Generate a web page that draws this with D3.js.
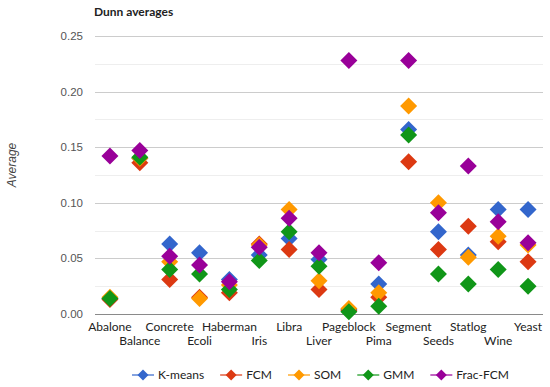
<!doctype html>
<html>
<head>
  <meta charset="utf-8">
  <title>Dunn averages</title>
  <style>
    html, body { margin: 0; padding: 0; background: #fff; }
    svg { display: block; font-family: Lato, "Liberation Sans", sans-serif; }
  </style>
</head>
<body>
  <div id="chart"></div>

  <script src="https://d3js.org/d3.v7.min.js"></script>
  <script>
    // data
    const datasets = ["Abalone", "Balance", "Concrete", "Ecoli", "Haberman", "Iris", "Libra", "Liver",
                      "Pageblock", "Pima", "Segment", "Seeds", "Statlog", "Wine", "Yeast"];
    const seriesNames = ["K-means", "FCM", "SOM", "GMM", "Frac-FCM"];
    const kmeans  = [0.014, 0.140, 0.063, 0.055, 0.031, 0.053, 0.068, 0.049, 0.004, 0.027, 0.166, 0.074, 0.053, 0.094, 0.094];
    const fcm     = [0.013, 0.136, 0.031, 0.015, 0.019, 0.063, 0.058, 0.022, 0.003, 0.015, 0.137, 0.058, 0.079, 0.065, 0.047];
    const som     = [0.015, 0.140, 0.047, 0.014, 0.026, 0.062, 0.094, 0.030, 0.005, 0.019, 0.187, 0.100, 0.051, 0.070, 0.062];
    const gmm     = [0.014, 0.141, 0.040, 0.036, 0.022, 0.048, 0.074, 0.043, 0.002, 0.007, 0.161, 0.036, 0.027, 0.040, 0.025];
    const fracfcm = [0.142, 0.147, 0.052, 0.044, 0.029, 0.060, 0.086, 0.055, 0.228, 0.046, 0.228, 0.091, 0.133, 0.083, 0.064];
    const seriesValues = [kmeans, fcm, som, gmm, fracfcm];
    const colors = ["#3366cc", "#dc3912", "#ff9900", "#109618", "#990099"];
    const yTicks = [0, 0.05, 0.10, 0.15, 0.20, 0.25];
    const yMinor = [0.025, 0.075, 0.125, 0.175, 0.225];

    const width = 550, height = 387;
    const plot = { left: 95, right: 543, top: 36, bottom: 314 };

    const svg = d3.select("#chart").append("svg")
        .attr("width", width)
        .attr("height", height);

    const x = d3.scaleBand().domain(datasets).range([plot.left, plot.right]);
    const y = d3.scaleLinear().domain([0, 0.25]).range([plot.bottom, plot.top]);
    const cx = d => x(d) + x.bandwidth() / 2;

    // minor grid
    svg.append("g").selectAll("line").data(yMinor).join("line")
        .attr("x1", plot.left).attr("x2", plot.right)
        .attr("y1", d => Math.round(y(d)) + 0.5).attr("y2", d => Math.round(y(d)) + 0.5)
        .attr("stroke", "#eeeeee");

    // major grid
    svg.append("g").selectAll("line").data(yTicks.slice(1)).join("line")
        .attr("x1", plot.left).attr("x2", plot.right)
        .attr("y1", d => Math.round(y(d)) + 0.5).attr("y2", d => Math.round(y(d)) + 0.5)
        .attr("stroke", "#cccccc");

    // baseline
    svg.append("line")
        .attr("x1", plot.left).attr("x2", plot.right)
        .attr("y1", Math.round(y(0)) + 0.5).attr("y2", Math.round(y(0)) + 0.5)
        .attr("stroke", "#8a8a8a").attr("stroke-width", 1.2);

    // y tick labels
    svg.append("g").selectAll("text").data(yTicks).join("text")
        .attr("x", 83)
        .attr("y", d => y(d))
        .attr("dy", "0.35em")
        .attr("text-anchor", "end")
        .style("font-family", "'Liberation Sans', Arial, sans-serif")
        .style("font-size", "11.5px")
        .attr("fill", "#555")
        .text(d => d3.format(".2f")(d));

    // x labels, staggered in two rows
    svg.append("g").selectAll("text").data(datasets).join("text")
        .attr("x", d => cx(d))
        .attr("y", (d, i) => i % 2 === 0 ? 331 : 345)
        .attr("text-anchor", "middle")
        .style("font-size", "12px")
        .attr("fill", "#222")
        .text(d => d);

    // title
    svg.append("text")
        .attr("x", 94).attr("y", 16)
        .style("font-size", "12px")
        .style("font-weight", "bold")
        .attr("fill", "#222")
        .text("Dunn averages");

    // y axis title
    svg.append("text")
        .attr("transform", "translate(16,165) rotate(-90)")
        .attr("text-anchor", "middle")
        .style("font-family", "'Liberation Sans', Arial, sans-serif")
        .style("font-size", "12px")
        .style("font-style", "italic")
        .attr("fill", "#444")
        .text("Average");

    const diamond = r => `M0,${-r}L${r},0L0,${r}L${-r},0Z`;

    // points, series in order so Frac-FCM sits on top
    seriesValues.forEach((vals, s) => {
      svg.append("g").selectAll("path").data(vals).join("path")
          .attr("transform", (v, i) => `translate(${cx(datasets[i])},${y(v)})`)
          .attr("d", diamond(8.5))
          .attr("fill", colors[s]);
    });

    // legend
    const legend = svg.append("g").attr("transform", "translate(0,375)");
    let lx = 132;
    seriesNames.forEach((name, s) => {
      const g = legend.append("g").attr("transform", `translate(${lx},0)`);
      g.append("line").attr("x1", 0).attr("x2", 22).attr("y1", 0).attr("y2", 0)
          .attr("stroke", colors[s]).attr("stroke-width", 2).attr("stroke-opacity", 0.6);
      g.append("path").attr("transform", "translate(11,0)").attr("d", diamond(5.5)).attr("fill", colors[s]);
      const t = g.append("text").attr("x", 26).attr("dy", "0.35em")
          .style("font-size", "12px").attr("fill", "#222").text(name);
      lx += 26 + t.node().getComputedTextLength() + 16;
    });
  </script>
</body>
</html>
